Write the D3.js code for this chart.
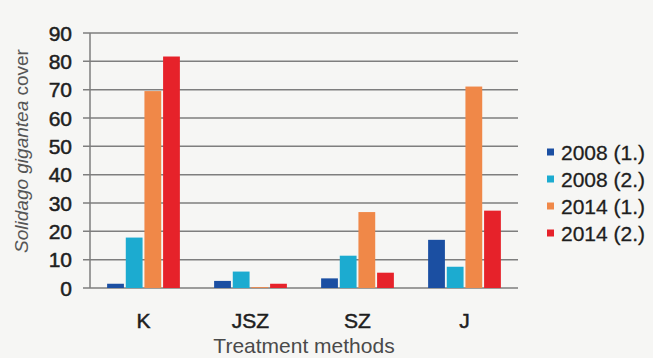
<!DOCTYPE html>
<html><head><meta charset="utf-8">
<script src="https://cdn.jsdelivr.net/npm/d3@7"></script>
<style>html,body{margin:0;padding:0;background:#f6f6f4;}svg{display:block;font-family:"Liberation Sans",Arial,sans-serif;}</style>
</head><body>
<svg id="c" width="653" height="358"></svg>
<script>
const categories = ["K", "JSZ", "SZ", "J"];
const seriesNames = ["2008 (1.)", "2008 (2.)", "2014 (1.)", "2014 (2.)"];
const s2008a = [1.5, 2.5, 3.4, 17];
const s2008b = [17.8, 5.8, 11.4, 7.5];
const s2014a = [69.5, 0.3, 26.8, 71.1];
const s2014b = [81.7, 1.5, 5.4, 27.3];
const yTicks = [0, 10, 20, 30, 40, 50, 60, 70, 80, 90];
const colors = ["#1b4fa2", "#1cabd0", "#f08848", "#e6222a"];

const seriesVals = [s2008a, s2008b, s2014a, s2014b];
const svg = d3.select("#c");
const mLeft = 90, mRight = 518, mTop = 33, mBottom = 288;

svg.append("rect").attr("x", 0).attr("y", 0).attr("width", 653).attr("height", 358).attr("fill", "#f6f6f4");

const x0 = d3.scaleBand().domain(categories).range([mLeft, mRight]).paddingInner(0.32).paddingOuter(0.16);
const x1 = d3.scaleBand().domain(seriesNames).range([0, x0.bandwidth()]).paddingInner(0.1);
const y = d3.scaleLinear().domain([0, 90]).range([mBottom, mTop]);

// gridlines
svg.append("g").selectAll("line").data(yTicks).join("line")
  .attr("x1", mLeft - 7).attr("x2", mRight)
  .attr("y1", d => y(d)).attr("y2", d => y(d))
  .attr("stroke", "#7e7e7e").attr("stroke-width", 1.5);

// y axis line
svg.append("line").attr("x1", mLeft).attr("x2", mLeft).attr("y1", mTop).attr("y2", mBottom)
  .attr("stroke", "#7e7e7e").attr("stroke-width", 1.5);

// bars
const groups = svg.append("g").selectAll("g").data(categories).join("g")
  .attr("transform", c => `translate(${x0(c)},0)`);
groups.selectAll("rect").data((c, i) => seriesNames.map((s, j) => ({s, j, v: seriesVals[j][i]}))).join("rect")
  .attr("x", d => x1(d.s)).attr("width", x1.bandwidth())
  .attr("y", d => y(d.v)).attr("height", d => y(0) - y(d.v))
  .attr("fill", d => colors[d.j]);

// y tick labels
svg.append("g").selectAll("text").data(yTicks).join("text")
  .attr("x", mLeft - 18).attr("y", d => y(d)).attr("dy", "0.36em")
  .attr("text-anchor", "end").attr("font-size", 21).attr("fill", "#1e1e1e")
  .attr("stroke", "#1e1e1e").attr("stroke-width", 0.5)
  .text(d => d);

// category labels
svg.append("g").selectAll("text").data(categories).join("text")
  .attr("x", c => x0(c) + x0.bandwidth() / 2).attr("y", 328)
  .attr("text-anchor", "middle").attr("font-size", 21).attr("fill", "#1e1e1e")
  .attr("stroke", "#1e1e1e").attr("stroke-width", 0.5)
  .text(c => c);

// x title
svg.append("text").attr("x", 304).attr("y", 353).attr("text-anchor", "middle")
  .attr("font-size", 21).attr("fill", "#4a4a4a").text("Treatment methods");

// y title
const yt = svg.append("text").attr("transform", "translate(28,151) rotate(-90)")
  .attr("text-anchor", "middle").attr("font-size", 19).attr("fill", "#555");
yt.append("tspan").attr("font-style", "italic").text("Solidago gigantea");
yt.append("tspan").text(" cover");

// legend
const lg = svg.append("g").selectAll("g").data(seriesNames).join("g")
  .attr("transform", (d, i) => `translate(547,${152 + i * 27})`);
lg.append("rect").attr("x", 0).attr("y", -3.5).attr("width", 7).attr("height", 7)
  .attr("fill", (d, i) => colors[i]);
lg.append("text").attr("x", 14).attr("y", 0).attr("dy", "0.36em")
  .attr("font-size", 21).attr("fill", "#1e1e1e")
  .attr("stroke", "#1e1e1e").attr("stroke-width", 0.3).text(d => d);
</script>
</body></html>
